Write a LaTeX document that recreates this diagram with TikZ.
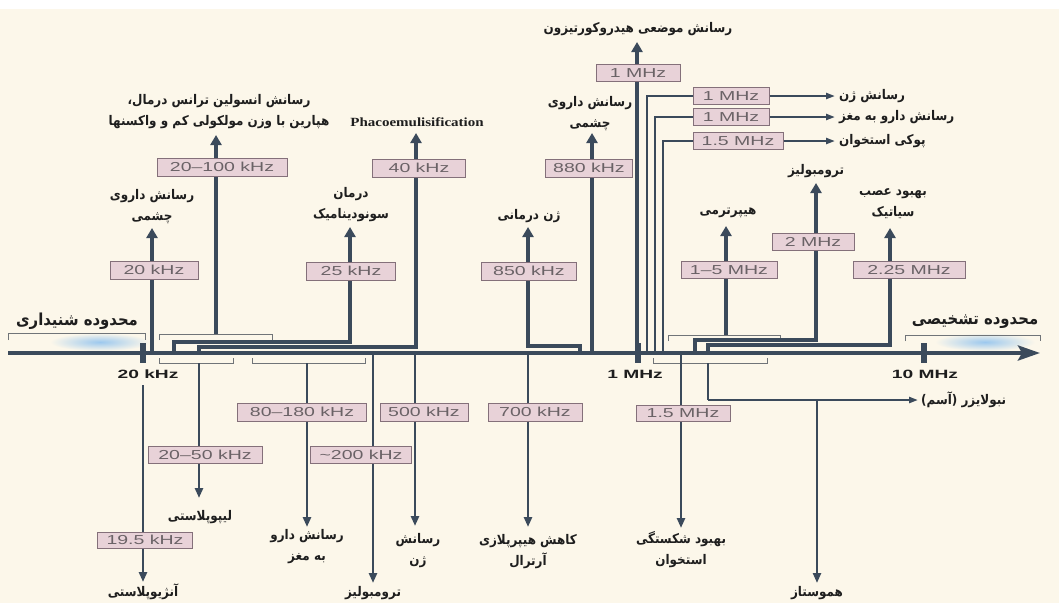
\documentclass[tikz,border=0pt]{standalone}
\usepackage{fontspec}
\usetikzlibrary{arrows.meta}
\TeXXeTstate=1
\newfontfamily\fa[Script=Arabic,FakeStretch=0.9]{DejaVu Sans}
\newfontfamily\boxf[FakeStretch=1.5]{Liberation Sans}
\newfontfamily\axf[FakeStretch=1.6]{Liberation Sans}
\newfontfamily\phf[FakeStretch=1.2]{Liberation Serif}
\newcommand\rl[1]{\beginR #1\endR}
\definecolor{cream}{HTML}{FCF7EA}
\definecolor{linec}{HTML}{3B4A5B}
\definecolor{boxfill}{HTML}{E8D2D8}
\definecolor{boxline}{HTML}{84707A}
\definecolor{boxtext}{HTML}{6A6266}
\definecolor{brkc}{HTML}{707478}
\definecolor{labc}{HTML}{1E1E1E}
\definecolor{glow}{HTML}{9CC8EE}
\begin{document}
\begin{tikzpicture}[x=1pt,y=-1pt,
  fbox/.style={draw=boxline, fill=boxfill, line width=1pt, text=boxtext,
    font=\boxf\fontsize{13}{13}\selectfont, inner sep=0pt, minimum height=18pt},
  lab/.style={font=\fa\bfseries\fontsize{13.3}{21}\selectfont, align=center, text=labc, inner sep=0pt},
  axl/.style={font=\axf\bfseries\fontsize{12}{12}\selectfont, text=labc, inner sep=0pt},
  upl/.style={draw=linec, line width=3.5pt},
  upa/.style={upl, -{Triangle[length=10pt,width=11pt]}},
  dnl/.style={draw=linec, line width=2.8pt},
  dna/.style={dnl, -{Triangle[length=10pt,width=8pt]}},
  hl/.style={draw=linec, line width=2.2pt},
  ha/.style={hl, -{Triangle[length=9pt,width=6pt]}},
  brk/.style={draw=brkc, line width=0.9pt},
  tick/.style={fill=linec, minimum width=6pt, minimum height=20pt, inner sep=0pt}
]
\useasboundingbox (0,0) rectangle (1059,603);
\fill[white] (0,0) rectangle (1059,603);
\fill[cream] (0,9) rectangle (1059,603);
% glows
\shade[inner color=glow, outer color=cream] (100,342) ellipse [x radius=50pt, y radius=9pt];
\shade[inner color=glow, outer color=cream] (985,342) ellipse [x radius=50pt, y radius=9pt];

% range brackets and labels
\draw[brk] (8,340) -- (8,333) -- (145,333) -- (145,340);
\draw[brk] (905,341) -- (905,335) -- (1040,335) -- (1040,341);
\node[lab, font=\fa\bfseries\fontsize{16.5}{20}\selectfont] (rangeL) at (77,321) {\rl{محدوده شنیداری}};
\node[lab, font=\fa\bfseries\fontsize{16.5}{20}\selectfont] (rangeR) at (975,322) {\rl{محدوده تشخیصی}};

% application brackets
\draw[brk] (159,340) -- (159,334) -- (272,334) -- (272,340);
\draw[brk] (668,341) -- (668,335) -- (780,335) -- (780,341);
\draw[brk] (159,358) -- (159,363) -- (233,363) -- (233,358);
\draw[brk] (252,358) -- (252,363) -- (365,363) -- (365,358);
\draw[brk] (653,358) -- (653,363) -- (767,363) -- (767,358);

% axis coordinates
\coordinate (axL) at (8,353);
\coordinate (axR) at (1040,353);
\coordinate (p20) at (152,353);
\coordinate (pB) at (216,334);
\coordinate (p25) at (174,353);
\coordinate (p40) at (199,353);
\coordinate (p850) at (580,353);
\coordinate (p880) at (592,353);
\coordinate (p1a) at (637,353);
\coordinate (p1b) at (647,353);
\coordinate (p1c) at (655,353);
\coordinate (p15) at (663,353);
\coordinate (pK) at (726,335);
\coordinate (p2) at (695,353);
\coordinate (p225) at (708,353);
\coordinate (q195) at (143,385);
\coordinate (qO) at (199,363);
\coordinate (qP) at (307,363);
\coordinate (q200) at (373,353);
\coordinate (q500) at (415,353);
\coordinate (q700) at (528,353);
\coordinate (qT) at (681,353);
\coordinate (qneb) at (708,363);

% boxes above
\node[fbox, minimum width=88pt] (A) at (154,270) {20 kHz};
\node[fbox, minimum width=130pt] (B) at (222,167) {20–100 kHz};
\node[fbox, minimum width=89pt] (C) at (351,271) {25 kHz};
\node[fbox, minimum width=93pt] (D) at (419,168) {40 kHz};
\node[fbox, minimum width=95pt] (E) at (529,271) {850 kHz};
\node[fbox, minimum width=87pt] (F) at (589,168) {880 kHz};
\node[fbox, minimum width=84pt, minimum height=17pt] (G) at (638,73) {1 MHz};
\node[fbox, minimum width=76pt, minimum height=17pt] (H) at (731,96) {1 MHz};
\node[fbox, minimum width=76pt, minimum height=17pt] (I) at (731,117) {1 MHz};
\node[fbox, minimum width=90pt, minimum height=17pt] (J) at (738,141) {1.5 MHz};
\node[fbox, minimum width=96pt, minimum height=17pt] (K) at (729,270) {1–5 MHz};
\node[fbox, minimum width=82pt, minimum height=17pt] (L) at (813,242) {2 MHz};
\node[fbox, minimum width=112pt, minimum height=17pt] (M) at (909,270) {2.25 MHz};
% boxes below
\node[fbox, minimum width=95pt, minimum height=16pt] (N) at (145,540) {19.5 kHz};
\node[fbox, minimum width=114pt, minimum height=17pt] (O) at (205,455) {20–50 kHz};
\node[fbox, minimum width=129pt] (P) at (302,412) {80–180 kHz};
\node[fbox, minimum width=101pt, minimum height=17pt] (Q) at (361,455) {{\char126}200 kHz};
\node[fbox, minimum width=88pt] (R) at (424,412) {500 kHz};
\node[fbox, minimum width=94pt] (S) at (535,412) {700 kHz};
\node[fbox, minimum width=94pt, minimum height=16pt] (T) at (683,413) {1.5 MHz};

% arrow tip coordinates
\coordinate (tA) at (152,228);
\coordinate (tB) at (216,135);
\coordinate (tC) at (350,227);
\coordinate (tD) at (416,133);
\coordinate (tE) at (528,227);
\coordinate (tF) at (592,133);
\coordinate (tG) at (637,42);
\coordinate (tH) at (835,96);
\coordinate (tI) at (835,117);
\coordinate (tJ) at (835,141);
\coordinate (tK) at (726,226);
\coordinate (tL) at (816,183);
\coordinate (tM) at (890,228);
\coordinate (tN) at (143,582);
\coordinate (tO) at (199,498);
\coordinate (tP) at (307,527);
\coordinate (tQ) at (373,583);
\coordinate (tR) at (415,526);
\coordinate (tS) at (528,527);
\coordinate (tT) at (681,528);
\coordinate (tneb) at (918,400);
\coordinate (bneb) at (708,400);
\coordinate (bhem) at (817,400);
\coordinate (themo) at (817,583);

% connectors above
\draw[upl] (p20) -- (p20 |- A.south);
\draw[upa] (p20 |- A.north) -- (tA);
\draw[upl] (pB) -- (pB |- B.south);
\draw[upa] (pB |- B.north) -- (tB);
\draw[upl] (p25) -- ++(0,-11) -| (tC |- C.south);
\draw[upa] (tC |- C.north) -- (tC);
\draw[upl] (p40) -- ++(0,-6) -| (tD |- D.south);
\draw[upa] (tD |- D.north) -- (tD);
\draw[upl] (p850) -- ++(0,-7) -| (tE |- E.south);
\draw[upa] (tE |- E.north) -- (tE);
\draw[upl] (p880) -- (p880 |- F.south);
\draw[upa] (p880 |- F.north) -- (tF);
\draw[upl] (p1a) -- (p1a |- G.south);
\draw[upa] (p1a |- G.north) -- (tG);
\draw[hl] (p1b) |- (H.west);
\draw[ha] (H.east) -- (tH);
\draw[hl] (p1c) |- (I.west);
\draw[ha] (I.east) -- (tI);
\draw[hl] (p15) |- (J.west);
\draw[ha] (J.east) -- (tJ);
\draw[upl] (pK) -- (pK |- K.south);
\draw[upa] (pK |- K.north) -- (tK);
\draw[upl] (p2) -- ++(0,-13) -| (tL |- L.south);
\draw[upa] (tL |- L.north) -- (tL);
\draw[upl] (p225) -- ++(0,-8) -| (tM |- M.south);
\draw[upa] (tM |- M.north) -- (tM);

% connectors below
\draw[dnl] (q195) -- (q195 |- N.north);
\draw[dna] (q195 |- N.south) -- (tN);
\draw[dnl] (qO) -- (qO |- O.north);
\draw[dna] (qO |- O.south) -- (tO);
\draw[dnl] (qP) -- (qP |- P.north);
\draw[dna] (qP |- P.south) -- (tP);
\draw[dnl] (q200) -- (q200 |- Q.north);
\draw[dna] (q200 |- Q.south) -- (tQ);
\draw[dnl] (q500) -- (q500 |- R.north);
\draw[dna] (q500 |- R.south) -- (tR);
\draw[dnl] (q700) -- (q700 |- S.north);
\draw[dna] (q700 |- S.south) -- (tS);
\draw[dnl] (qT) -- (qT |- T.north);
\draw[dna] (qT |- T.south) -- (tT);
\draw[hl] (qneb) -- (bneb);
\draw[ha] (bneb) -- (tneb);
\draw[dna, line width=2.2pt] (bhem) -- (themo);

% axis
\draw[draw=linec, line width=4pt, -{Stealth[length=22pt,width=15pt,inset=4pt]}] (axL) -- (axR);
\node[tick] (k20) at (142.5,353) {};
\node[tick] (k1) at (637.5,353) {};
\node[tick] (k10) at (923.5,353) {};
\node[axl] (l20) at (148,374) {20 kHz};
\node[axl] (l1) at (635,374) {1 MHz};
\node[axl] (l10) at (925,374) {10 MHz};

% labels above
\node[lab] (xA) at (152,207) {\rl{رسانش داروی}\\\rl{چشمی}};
\node[lab] (xB) at (219,112) {\rl{رسانش انسولین ترانس درمال،}\\\rl{هپارین با وزن مولکولی کم و واکسنها}};
\node[lab] (xC) at (351,205) {\rl{درمان}\\\rl{سونودینامیک}};
\node[font=\phf\bfseries\fontsize{12.5}{12}\selectfont, text=labc, inner sep=0pt] (xD) at (417,122) {Phacoemulisification};
\node[lab] (xE) at (529,216) {\rl{ژن درمانی}};
\node[lab] (xF) at (590,114) {\rl{رسانش داروی}\\\rl{چشمی}};
\node[lab] (xG) at (638,29) {\rl{رسانش موضعی هیدروکورتیزون}};
\node[lab, anchor=west] (xH) at (839,96) {\rl{رسانش ژن}};
\node[lab, anchor=west] (xI) at (839,117) {\rl{رسانش دارو به مغز}};
\node[lab, anchor=west] (xJ) at (839,141) {\rl{پوکی استخوان}};
\node[lab] (xK) at (728,213) {\rl{هیپرترمی}};
\node[lab] (xL) at (816,171) {\rl{ترومبولیز}};
\node[lab] (xM) at (893,204) {\rl{بهبود عصب}\\\rl{سیاتیک}};
% labels below
\node[lab] (xN) at (143,592) {\rl{آنژیوپلاستی}};
\node[lab] (xO) at (200,517) {\rl{لیپوپلاستی}};
\node[lab] (xP) at (307,547) {\rl{رسانش دارو}\\\rl{به مغز}};
\node[lab] (xQ) at (373,593) {\rl{ترومبولیز}};
\node[lab] (xR) at (418,551) {\rl{رسانش}\\\rl{ژن}};
\node[lab] (xS) at (528,552) {\rl{کاهش هیپرپلازی}\\\rl{آرترال}};
\node[lab] (xT) at (681,550) {\rl{بهبود شکستگی}\\\rl{استخوان}};
\node[lab, anchor=west] (xneb) at (921,400) {\rl{نبولایزر (آسم)}};
\node[lab] (xhem) at (817,593) {\rl{هموستاز}};
\end{tikzpicture}
\end{document}
